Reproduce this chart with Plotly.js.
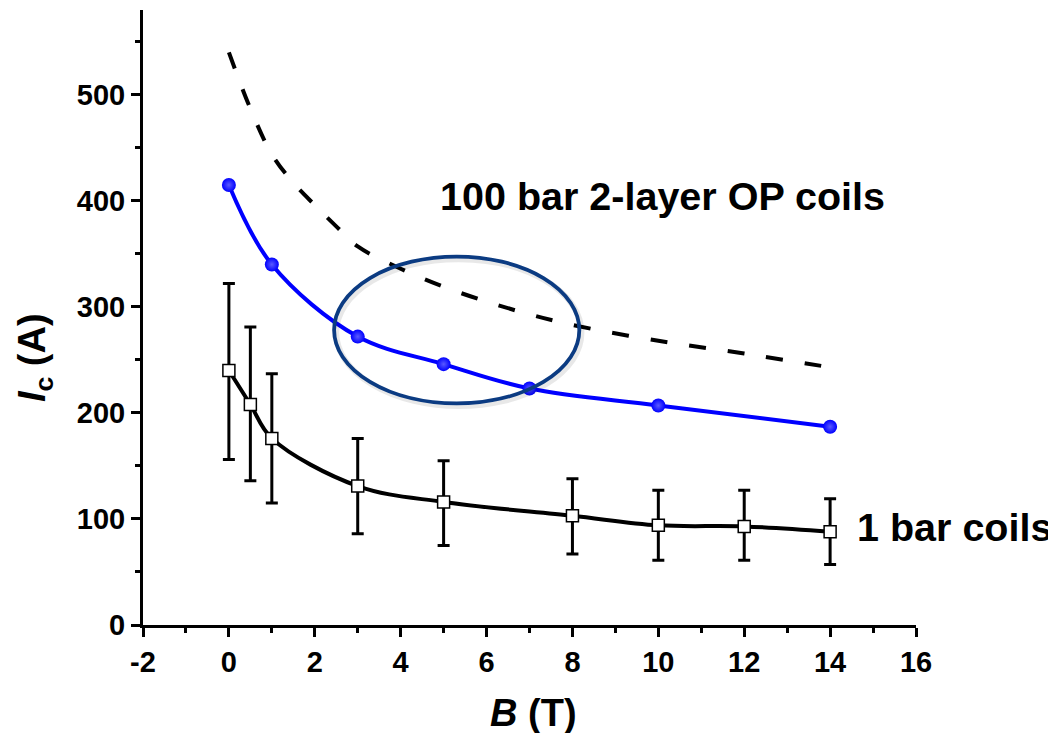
<!DOCTYPE html>
<html>
<head>
<meta charset="utf-8">
<script src="https://cdn.plot.ly/plotly-3.0.1.min.js"></script>
<style>
  html, body { margin: 0; padding: 0; background: #fff; }
  #chart { width: 1048px; height: 733px; }
</style>
</head>
<body>
<div id="chart"></div>
<script>
// Critical current vs. field: 100 bar 2-layer OP coils and 1 bar coils
const opB = [0, 1, 3, 5, 7, 10, 14];
const opIc = [415, 340, 272, 246, 223, 207, 187];

const oneBarB = [0, 0.5, 1, 3, 5, 8, 10, 12, 14];
const oneBarIc = [240, 208, 176, 131, 116, 103, 94, 93, 88];
const oneBarErrUp = [82, 73, 61, 45, 39, 35, 33, 34, 31];
const oneBarErrDown = [84, 72, 61, 45, 41, 36, 33, 32, 31];

// Dashed reference curve
const refB = [0, 0.5, 1, 1.5, 2, 2.5, 3, 4, 5, 6, 7, 8, 10, 12, 14];
const refIc = [540, 487, 444, 417, 396, 376, 357, 336, 319, 305, 293, 283, 268, 256, 243];

const xTickVals = [-2, 0, 2, 4, 6, 8, 10, 12, 14, 16];
const xTickLabels = ['-2', '0', '2', '4', '6', '8', '10', '12', '14', '16'];
const yTickVals = [0, 100, 200, 300, 400, 500];
const yTickLabels = ['0', '100', '200', '300', '400', '500'];

const FONT = 'Liberation Sans, Arial, sans-serif';
const BLUE = '#0000ff';
const NAVY = '#0b3b82';

const traces = [
  {
    x: refB, y: refIc, type: 'scatter', mode: 'lines',
    line: { color: '#000', width: 4, dash: '17px,22px', shape: 'spline', smoothing: 1 },
    hoverinfo: 'skip'
  },
  {
    x: opB, y: opIc, type: 'scatter', mode: 'lines',
    line: { color: BLUE, width: 4, shape: 'spline', smoothing: 1 },
    hoverinfo: 'skip'
  },
  {
    x: opB, y: opIc, type: 'scatter', mode: 'markers',
    marker: {
      symbol: 'circle', size: 14, color: BLUE,
      line: { width: 0 },
      gradient: { type: 'radial', color: '#5a5aff' }
    }
  },
  {
    x: oneBarB, y: oneBarIc, type: 'scatter', mode: 'lines',
    line: { color: '#000', width: 4, shape: 'spline', smoothing: 1 },
    hoverinfo: 'skip'
  },
  {
    x: oneBarB, y: oneBarIc, type: 'scatter', mode: 'markers',
    marker: { symbol: 'square', size: 12, color: '#fff', line: { color: '#000', width: 1.5 } },
    error_y: {
      type: 'data', symmetric: false,
      array: oneBarErrUp, arrayminus: oneBarErrDown,
      color: '#000', thickness: 3, width: 6
    }
  }
];

const layout = {
  width: 1048, height: 733,
  margin: { l: 143, r: 132, t: 10, b: 108 },
  paper_bgcolor: '#fff', plot_bgcolor: '#fff',
  showlegend: false,
  font: { family: FONT, color: '#000' },
  xaxis: {
    range: [-2, 16], showgrid: false, zeroline: false,
    showline: true, linecolor: '#000', linewidth: 3,
    ticks: 'outside', ticklen: 9, tickwidth: 3, tickcolor: '#000',
    tickvals: xTickVals, ticktext: xTickLabels,
    tickfont: { family: FONT, size: 29, weight: 'bold', color: '#000' },
    minor: { dtick: 1, ticks: 'outside', ticklen: 5, tickwidth: 3, tickcolor: '#000', showgrid: false },
    fixedrange: true
  },
  yaxis: {
    range: [0, 580], showgrid: false, zeroline: false,
    showline: true, linecolor: '#000', linewidth: 3,
    ticks: 'outside', ticklen: 9, tickwidth: 3, tickcolor: '#000',
    tickvals: yTickVals, ticktext: yTickLabels,
    tickfont: { family: FONT, size: 29, weight: 'bold', color: '#000' },
    minor: { dtick: 50, ticks: 'outside', ticklen: 5, tickwidth: 3, tickcolor: '#000', showgrid: false },
    fixedrange: true
  },
  shapes: [
    {
      type: 'circle', xref: 'x', yref: 'y',
      x0: 2.5, x1: 8.21, y0: 206.5, y1: 345,
      line: { color: 'rgba(0,0,0,0.09)', width: 6 },
      layer: 'above'
    },
    {
      type: 'circle', xref: 'x', yref: 'y',
      x0: 2.45, x1: 8.16, y0: 209, y1: 347.5,
      line: { color: NAVY, width: 3.8 },
      layer: 'above'
    }
  ],
  annotations: [
    {
      text: '100 bar 2-layer OP coils', xref: 'x', yref: 'y', x: 4.88, y: 405,
      xanchor: 'left', yanchor: 'middle', showarrow: false,
      font: { family: FONT, size: 39.5, weight: 'bold', color: '#000' }
    },
    {
      text: '1 bar coils', xref: 'x', yref: 'y', x: 14.58, y: 92,
      xanchor: 'left', yanchor: 'middle', showarrow: false,
      font: { family: FONT, size: 39.5, weight: 'bold', color: '#000' }
    },
    {
      text: '<i>B</i> (T)', xref: 'paper', yref: 'paper', x: 0.505, y: -0.143,
      xanchor: 'center', yanchor: 'middle', showarrow: false,
      font: { family: FONT, size: 38, weight: 'bold', color: '#000' }
    },
    {
      text: '<i>I</i><sub>c</sub> (A)', xref: 'paper', yref: 'paper', x: -0.1397, y: 0.434,
      xanchor: 'center', yanchor: 'middle', showarrow: false, textangle: -90,
      font: { family: FONT, size: 38, weight: 'bold', color: '#000' }
    }
  ]
};

Plotly.newPlot('chart', traces, layout, { staticPlot: true, displayModeBar: false });
</script>
</body>
</html>
